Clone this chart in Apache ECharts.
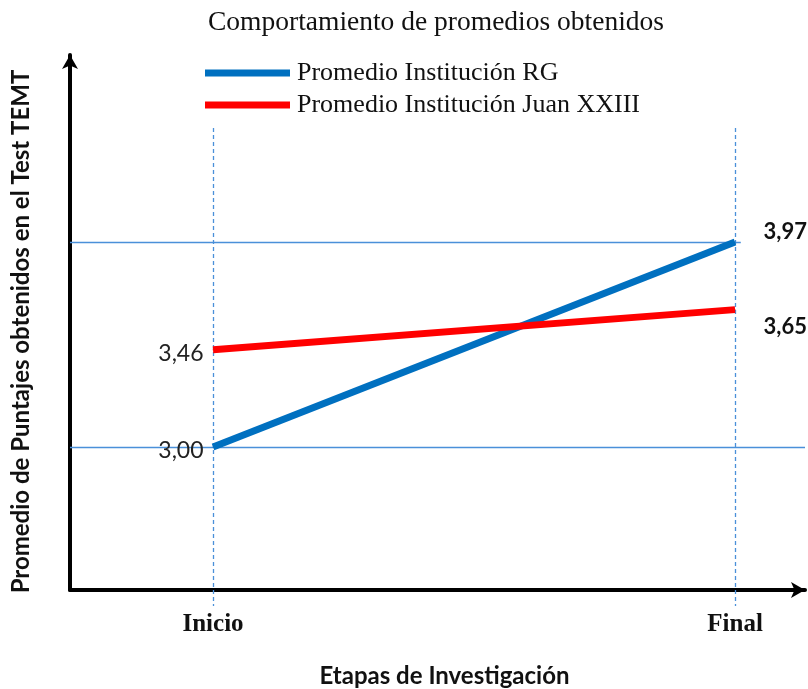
<!DOCTYPE html>
<html>
<head>
<meta charset="utf-8">
<script src="https://cdn.jsdelivr.net/npm/echarts@6/dist/echarts.min.js"></script>
<style>
html,body{margin:0;padding:0;background:#fff;}
#chart{width:808px;height:689px;}
</style>
</head>
<body>
<div id="chart"></div>
<script>
const categories = ['Inicio', 'Final'];
const seriesNames = ['Promedio Institución RG', 'Promedio Institución Juan XXIII'];
const rgValues = [3.00, 3.97];
const juanValues = [3.46, 3.65];
const referenceLevels = [3.00, 3.97];

const fmt = v => v.toFixed(2).replace('.', ',');
const xMin = -0.274, xMax = 1.134;
const yMin = 2.3232, yMax = 4.855;
const sans = 'Lato, "Open Sans", sans-serif';
const serif = '"Liberation Serif", "Times New Roman", serif';

function labelled(vals, rightOffset) {
  return vals.map((v, i) => ({
    value: [i, v],
    label: i === 0
      ? { show: true, position: 'left', distance: 9, formatter: fmt(v), fontFamily: sans, fontSize: 23, color: '#222', fontWeight: 'normal', offset: [0, 4] }
      : { show: true, position: 'right', distance: 28, formatter: fmt(v), fontFamily: sans, fontSize: 22, color: '#111', fontWeight: 'bold', offset: rightOffset }
  }));
}

const refColor = '#4A90D9';
const dashStyle = { color: refColor, width: 1.3, type: [4, 3] };
const solidStyle = { color: refColor, width: 1.3, type: 'solid' };
const chart = echarts.init(document.getElementById('chart'));
chart.setOption({
  animation: false,
  title: {
    text: 'Comportamiento de promedios obtenidos',
    left: 431, textAlign: 'center', top: 4,
    textStyle: { fontFamily: serif, fontSize: 27.5, fontWeight: 'normal', color: '#111' }
  },
  legend: {
    orient: 'vertical', left: 200, top: 55, icon: 'rect', itemWidth: 85, itemHeight: 7, itemGap: 6,
    textStyle: { fontFamily: serif, fontSize: 26, color: '#111', padding: [0, 0, 0, 2] },
    data: seriesNames
  },
  grid: { left: 70, right: 3, top: 55, bottom: 99, outerBoundsMode: 'none', containLabel: false },
  xAxis: {
    type: 'value', min: xMin, max: xMax,
    name: 'Etapas de Investigación', nameLocation: 'middle', nameGap: 74,
    nameTextStyle: { fontFamily: sans, fontSize: 24, fontWeight: 'bold', color: '#111', padding: [0, 0, 0, 14] },
    axisLine: { show: true, onZero: false, lineStyle: { color: '#000', width: 4 }, symbol: ['none', 'arrow'], symbolSize: [12, 14] },
    splitLine: { show: false },
    axisTick: { show: true, customValues: [0, 1], length: 16, inside: false, lineStyle: dashStyle },
    axisLabel: {
      customValues: [0, 1], margin: 22,
      formatter: v => categories[Math.round(v)],
      fontFamily: serif, fontSize: 25, fontWeight: 'bold', color: '#111'
    }
  },
  yAxis: {
    type: 'value', min: yMin, max: yMax,
    name: 'Promedio de Puntajes obtenidos en el Test TEMT', nameLocation: 'middle', nameRotate: 90, nameGap: 37,
    nameTextStyle: { fontFamily: sans, fontSize: 24, fontWeight: 'bold', color: '#111', padding: [0, 18, 0, 0] },
    axisLine: { show: true, onZero: false, lineStyle: { color: '#000', width: 4 }, symbol: ['none', 'arrow'], symbolSize: [12, 14] },
    axisTick: { show: false }, axisLabel: { show: false }, splitLine: { show: false }
  },
  series: [
    {
      name: seriesNames[0], type: 'line', data: labelled(rgValues, [0, -10]), showSymbol: true, symbol: 'circle', symbolSize: 1,
      lineStyle: { color: '#0070C0', width: 7 }, itemStyle: { color: '#0070C0' }, z: 5,
      markLine: {
        silent: true, symbol: 'none', label: { show: false },
        lineStyle: solidStyle,
        data: [
          [{ coord: [xMin, referenceLevels[0]], lineStyle: solidStyle }, { coord: [xMax, referenceLevels[0]], lineStyle: solidStyle }],
          [{ coord: [xMin, referenceLevels[1]], lineStyle: solidStyle }, { coord: [1.011, referenceLevels[1]], lineStyle: solidStyle }],
          [{ coord: [0, 4.51], lineStyle: dashStyle }, { coord: [0, yMin], lineStyle: dashStyle }],
          [{ coord: [1, 4.51], lineStyle: dashStyle }, { coord: [1, yMin], lineStyle: dashStyle }]
        ]
      }
    },
    {
      name: seriesNames[1], type: 'line', data: labelled(juanValues, [0, 17]), showSymbol: true, symbol: 'circle', symbolSize: 1,
      lineStyle: { color: '#FF0000', width: 7 }, itemStyle: { color: '#FF0000' }, z: 5
    }
  ]
});
</script>
</body>
</html>
